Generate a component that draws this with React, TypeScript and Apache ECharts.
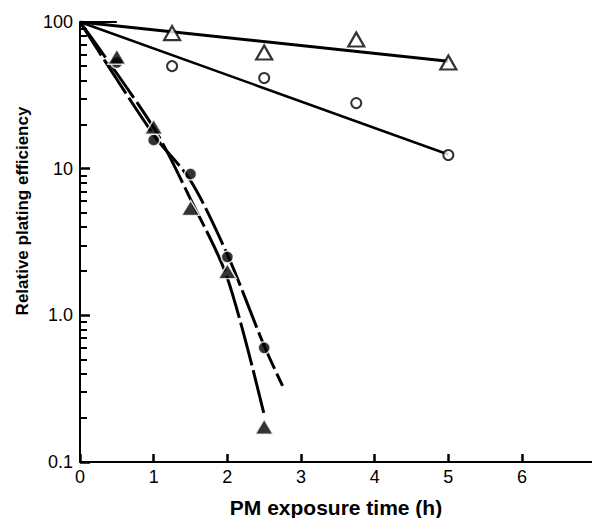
import React, { useEffect, useRef } from "react";
import * as echarts from "echarts";

// Measured data (x = PM exposure time, h; y = relative plating efficiency)
const markerX = [0.5, 1, 1.5, 2, 2.5];
const filledCircleY = [53, 15.7, 9.2, 2.5, 0.6];
const filledTriangleY = [58, 19.3, 5.4, 2.0, 0.174];

const openX = [1.25, 2.5, 3.75, 5];
const openTriangleY = [84, 62, 76, 53];
const openCircleY = [50, 41.5, 28, 12.4];

// Fitted curves
const openTriFitX = [0, 5];
const openTriFitY = [100, 54];
const openCircFitX = [0, 5];
const openCircFitY = [100, 12.5];
const circCurveX = [0, 1, 1.5, 2, 2.5, 2.75];
const circCurveY = [100, 17, 8.3, 2.6, 0.62, 0.33];
const triCurveX = [0, 1, 1.5, 2, 2.5];
const triCurveY = [100, 19, 6.2, 1.8, 0.21];
const stubX = [0, 0.5];
const stubY = [100, 100];

const xTicks = [0, 1, 2, 3, 4, 5, 6];
const yLabels: Record<string, string> = { "0.1": "0.1", "1": "1.0", "10": "10", "100": "100" };
const yMinor = [0.2, 0.3, 0.4, 0.5, 0.6, 0.7, 0.8, 0.9, 2, 3, 4, 5, 6, 7, 8, 9, 20, 30, 40, 50, 60, 70, 80, 90];

const zip = (xs: number[], ys: number[]) => xs.map((x, i) => [x, ys[i]]);

const FONT = "'Liberation Sans', Arial, Helvetica, sans-serif";
const TICK = "#000000";

export default function App() {
  const ref = useRef<HTMLDivElement>(null);
  useEffect(() => {
    if (!ref.current) return;
    const chart = echarts.init(ref.current, undefined, { renderer: "svg" });
    const lineBase = { type: "line", symbol: "none", silent: true, z: 2 };
    chart.setOption({
      animation: false,
      backgroundColor: "#ffffff",
      textStyle: { fontFamily: FONT, color: "#000" },
      grid: { left: 80, top: 22, width: 512, height: 440, outerBoundsMode: "none", containLabel: false },
      xAxis: {
        type: "value",
        min: 0,
        max: 6.95,
        axisLine: { show: true, onZero: false, lineStyle: { color: "#000", width: 2 } },
        axisTick: { show: true, inside: true, length: 8, customValues: xTicks, lineStyle: { color: TICK, width: 2.5 } },
        axisLabel: { customValues: xTicks, fontSize: 18, color: "#000", margin: 6, fontFamily: FONT },
        splitLine: { show: false },
        name: "PM exposure time (h)",
        nameLocation: "middle",
        nameGap: 35,
        nameTextStyle: { fontSize: 21, fontWeight: "bold", color: "#000", fontFamily: FONT },
      },
      yAxis: [
        {
          type: "log",
          logBase: 10,
          min: 0.1,
          max: 100,
          position: "left",
          axisLine: { show: true, lineStyle: { color: "#000", width: 2 } },
          axisTick: { show: true, inside: true, length: 10, lineStyle: { color: TICK, width: 2.5 } },
          axisLabel: {
            fontSize: 18,
            color: "#000",
            margin: 7,
            fontFamily: FONT,
            formatter: (v: number) => yLabels[String(v)] ?? String(v),
          },
          splitLine: { show: false },
          name: "Relative plating efficiency",
          nameLocation: "middle",
          nameGap: 49,
          nameTextStyle: { fontSize: 17, fontWeight: "bold", color: "#000", fontFamily: FONT, padding: [0, 0, 0, 62] },
        },
        {
          // minor ticks: positioned on log10 of the minor values
          type: "value",
          min: -1,
          max: 2,
          position: "left",
          axisLine: { show: false },
          axisTick: {
            show: true,
            inside: true,
            length: 7,
            customValues: yMinor.map((v) => Math.log10(v)),
            lineStyle: { color: TICK, width: 2 },
          },
          axisLabel: { show: false },
          splitLine: { show: false },
        },
      ],
      series: [
        { ...lineBase, name: "stub", data: zip(stubX, stubY), lineStyle: { color: "#000", width: 2 } },
        { ...lineBase, name: "open triangle fit", data: zip(openTriFitX, openTriFitY), lineStyle: { color: "#000", width: 3 } },
        { ...lineBase, name: "open circle fit", data: zip(openCircFitX, openCircFitY), lineStyle: { color: "#000", width: 2.5 } },
        { ...lineBase, name: "filled circle fit", smooth: 0.3, data: zip(circCurveX, circCurveY), lineStyle: { color: "#000", width: 3, type: [40, 5] } },
        { ...lineBase, name: "filled triangle fit", smooth: 0.3, data: zip(triCurveX, triCurveY), lineStyle: { color: "#000", width: 3, type: [44, 5] } },
        {
          type: "scatter", name: "filled circles", z: 5, symbol: "circle", symbolSize: 12,
          data: zip(markerX, filledCircleY),
          itemStyle: { color: "#000", borderColor: "#fff", borderWidth: 1.5 },
        },
        {
          type: "scatter", name: "filled triangles", z: 6, symbol: "triangle", symbolSize: [18, 15],
          data: zip(markerX, filledTriangleY),
          itemStyle: { color: "#000", borderColor: "#fff", borderWidth: 1.5 },
        },
        {
          type: "scatter", name: "open triangles", z: 6, symbol: "triangle", symbolSize: [16, 14],
          data: zip(openX, openTriangleY),
          itemStyle: { color: "#fff", borderColor: "#000", borderWidth: 2.2 },
        },
        {
          type: "scatter", name: "open circles", z: 6, symbol: "circle", symbolSize: 10,
          data: zip(openX, openCircleY),
          itemStyle: { color: "#fff", borderColor: "#000", borderWidth: 2 },
        },
      ],
    });
    return () => chart.dispose();
  }, []);
  return (
    <div
      ref={ref}
      style={{ position: "fixed", left: 0, top: 0, width: 592, height: 518, background: "#fff" }}
    />
  );
}
